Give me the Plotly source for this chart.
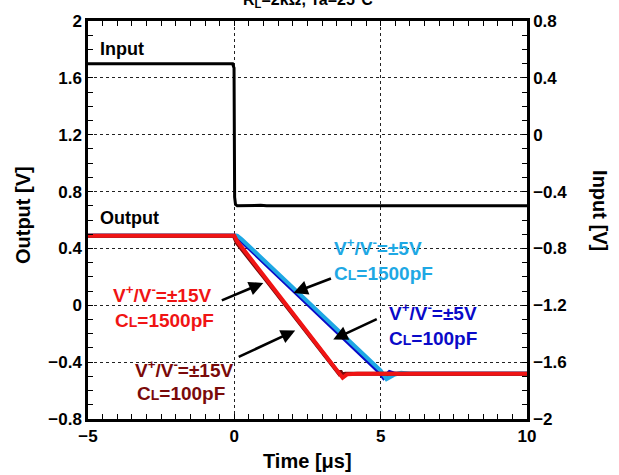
import plotly.graph_objects as go

# ---- data -------------------------------------------------------------
# Input step (right axis, V)
t_input = [-5, -0.06, -0.01, 0.01, 0.04, 0.1, 0.9, 1.1, 10]
v_input = [0.5, 0.5, 0.47, -0.44, -0.49, -0.5, -0.497, -0.5, -0.5]

# Output, V+/V- = ±15V, CL = 100pF
t_15v_100p = [-5, -0.05, 0.0, 0.08, 1.0, 2.0, 3.0, 3.5, 3.57, 3.62, 3.68, 3.8, 10]
v_15v_100p = [0.49, 0.49, 0.48, 0.44, 0.2, -0.065, -0.33, -0.462, -0.48, -0.462, -0.485, -0.482, -0.482]

# Output, V+/V- = ±15V, CL = 1500pF
t_15v_1500p = [-5, 0.0, 0.1, 0.82, 1.66, 2.6, 3.55, 3.7, 3.85, 4.2, 10]
v_15v_1500p = [0.49, 0.49, 0.45, 0.258, 0.034, -0.217, -0.47, -0.51, -0.486, -0.482, -0.482]

# Output, V+/V- = ±5V, CL = 100pF
t_5v_100p = [-5, 0.05, 0.18, 2.55, 4.95, 5.1, 5.3, 5.5, 10]
v_5v_100p = [0.49, 0.49, 0.465, 0.0, -0.47, -0.51, -0.47, -0.482, -0.482]

# Output, V+/V- = ±5V, CL = 1500pF
t_5v_1500p = [-5, 0.1, 0.25, 2.63, 5.0, 5.2, 5.45, 5.7, 6.0, 10]
v_5v_1500p = [0.49, 0.49, 0.465, 0.0, -0.46, -0.52, -0.49, -0.475, -0.482, -0.482]

x_ticks = [-5, 0, 5, 10]
y_ticks = [-0.8, -0.4, 0, 0.4, 0.8, 1.2, 1.6, 2]
y2_ticks = [-2, -1.6, -1.2, -0.8, -0.4, 0, 0.4, 0.8]

# ---- styling ----------------------------------------------------------
FONT = "Liberation Sans, Arial, sans-serif"
C_LIGHTBLUE = "#1EA8E4"
C_BLUE = "#0A0AC8"
C_RED = "#F01414"
C_DARKRED = "#7A0A0A"

fig = go.Figure()

fig.add_trace(go.Scatter(x=t_input, y=v_input, yaxis="y2", mode="lines",
                         line=dict(color="black", width=3), showlegend=False))
fig.add_trace(go.Scatter(x=t_5v_100p, y=v_5v_100p, mode="lines",
                         line=dict(color=C_BLUE, width=4), showlegend=False))
fig.add_trace(go.Scatter(x=t_5v_1500p, y=v_5v_1500p, mode="lines",
                         line=dict(color=C_LIGHTBLUE, width=4), showlegend=False))
fig.add_trace(go.Scatter(x=t_15v_100p, y=v_15v_100p, mode="lines",
                         line=dict(color=C_DARKRED, width=4), showlegend=False))
fig.add_trace(go.Scatter(x=t_15v_1500p, y=v_15v_1500p, mode="lines",
                         line=dict(color=C_RED, width=4), showlegend=False))

axis_common = dict(
    showline=True, linecolor="black", linewidth=2.5,
    ticks="inside", ticklen=0, tickcolor="black",
    showgrid=True, gridcolor="#222222", gridwidth=1, griddash="dot",
    zeroline=False,
    tickfont=dict(family=FONT, size=17, color="black", weight="bold"),
)

fig.update_layout(
    width=619, height=475,
    margin=dict(l=88, r=92, t=17, b=56),
    plot_bgcolor="white", paper_bgcolor="white",
    xaxis=dict(range=[-5, 10], tickvals=x_ticks, mirror="allticks",
               minor=dict(dtick=0.5, ticks="inside", ticklen=5, tickcolor="black",
                          showgrid=False),
               **axis_common),
    yaxis=dict(range=[-0.8, 2], tickvals=y_ticks, tickformat="~g", mirror="allticks",
               minor=dict(dtick=0.1, ticks="inside", ticklen=5, tickcolor="black",
                          showgrid=False),
               **axis_common),
    yaxis2=dict(range=[-2, 0.8], tickvals=y2_ticks, overlaying="y", side="right",
                showline=True, linecolor="black", linewidth=2.5, ticks="",
                showgrid=False, zeroline=False,
                tickfont=dict(family=FONT, size=17, color="black", weight="bold")),
    showlegend=False,
)

ann = []


def label(text, x, y, color, size=19, xanchor="left", xref="paper", yref="paper"):
    ann.append(dict(text=text, x=x, y=y, xref=xref, yref=yref, showarrow=False,
                    xanchor=xanchor, yanchor="middle",
                    font=dict(family=FONT, size=size, color=color, weight="bold")))


# pixel helpers for free-standing text (plot area 88..527 x 17..419)
def px(xp):
    return (xp - 88) / 439


def py(yp):
    return (419 - yp) / 402


label("R<sub>L</sub>=2kΩ, Ta=25°C", 0.5, py(-4), "black", size=16, xanchor="center")
label("Input", px(98), py(45), "black", size=18)
label("Output", px(98), py(216), "black", size=18)

vv = "V<sup>+</sup>/V<sup>-</sup>"
cl = "C<span style='font-size:14px'>L</span>"
label(vv + "=±5V", px(332), py(245), C_LIGHTBLUE)
label(cl + "=1500pF", px(332), py(272), C_LIGHTBLUE)
label(vv + "=±5V", px(387), py(311), C_BLUE)
label(cl + "=100pF", px(387), py(338), C_BLUE)
label(vv + "=±15V", px(111), py(293), C_RED)
label(cl + "=1500pF", px(113), py(320), C_RED)
label(vv + "=±15V", px(133), py(368), C_DARKRED)
label(cl + "=100pF", px(135), py(393), C_DARKRED)

# axis titles
label("Output [V]", px(23), py(213), "black", size=20, xanchor="center")
ann[-1]["textangle"] = -90
label("Input [V]", px(600), py(208), "black", size=20, xanchor="center")
ann[-1]["textangle"] = 90
label("Time [μs]", 0.5, py(461), "black", size=20, xanchor="center")

# arrows pointing to each trace (head in data coords, tail offset in px)
for hx, hy, ax, ay in [(2.02, 0.087, 39, -15), (3.38, -0.24, 45, -21),
                       (0.99, 0.157, -43, 18), (2.08, -0.178, -58, 27)]:
    ann.append(dict(x=hx, y=hy, xref="x", yref="y", ax=ax, ay=ay, text="",
                    showarrow=True, arrowhead=2, arrowsize=1.1, arrowwidth=2.6,
                    arrowcolor="black", standoff=0))

fig.update_layout(annotations=ann)
fig.write_html("out.html")
